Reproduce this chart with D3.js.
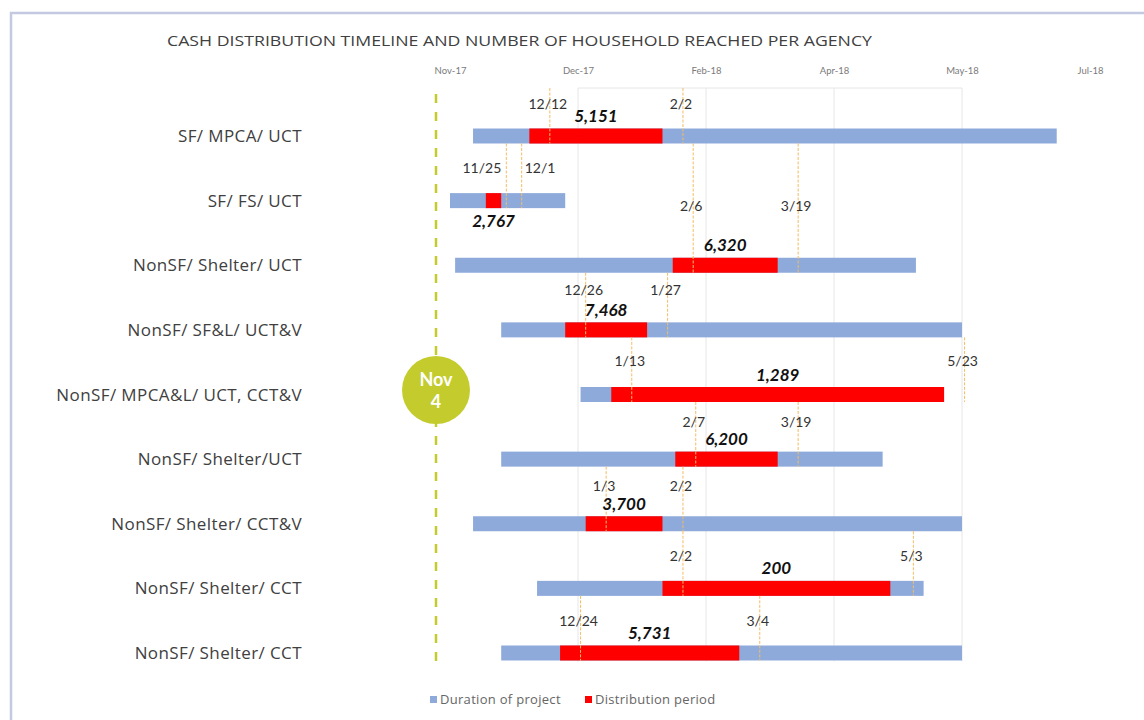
<!DOCTYPE html>
<html>
<head>
<meta charset="utf-8">
<script src="https://cdn.jsdelivr.net/npm/d3@7"></script>
<style>
  body { margin: 0; background: #fff; }
  svg { display: block; font-family: Lato, "Open Sans", sans-serif; }
</style>
</head>
<body>
<svg id="chart"></svg>
<script>
// chart values
const categories = [
    "SF/ MPCA/ UCT",
    "SF/ FS/ UCT",
    "NonSF/ Shelter/ UCT",
    "NonSF/ SF&L/ UCT&V",
    "NonSF/ MPCA&L/ UCT, CCT&V",
    "NonSF/ Shelter/UCT",
    "NonSF/ Shelter/ CCT&V",
    "NonSF/ Shelter/ CCT",
    "NonSF/ Shelter/ CCT"
];
const projectStart = ["2017-11-12", "2017-11-03", "2017-11-05", "2017-11-23", "2017-12-24", "2017-11-23", "2017-11-12", "2017-12-07", "2017-11-23"];
const projectEnd = ["2018-06-28", "2017-12-18", "2018-05-04", "2018-05-22", "2018-05-15", "2018-04-21", "2018-05-22", "2018-05-07", "2018-05-22"];
const distStart = ["2017-12-04", "2017-11-17", "2018-01-29", "2017-12-18", "2018-01-05", "2018-01-30", "2017-12-26", "2018-01-25", "2017-12-16"];
const distEnd = ["2018-01-25", "2017-11-23", "2018-03-11", "2018-01-19", "2018-05-15", "2018-03-11", "2018-01-25", "2018-04-24", "2018-02-24"];
const households = [5151, 2767, 6320, 7468, 1289, 6200, 3700, 200, 5731];
const dateNotes = [
    ["12/12", "2/2"], ["11/25", "12/1"], ["2/6", "3/19"], ["12/26", "1/27"], ["1/13", "5/23"],
    ["2/7", "3/19"], ["1/3", "2/2"], ["2/2", "5/3"], ["12/24", "3/4"]
];
const tickDates = ["2017-11-03", "2017-12-23", "2018-02-11", "2018-04-02", "2018-05-22", "2018-07-11"];
const legendItems = ["Duration of project", "Distribution period"];

const W = 1144, H = 720;
const blue = '#8eaadb', red = '#ff0000', lime = '#c3cc2c', orange = '#f5bd62';
const barH = 15;
// where the date notes sit above each bar, and which row their guide lines start from
const noteLift = [32, 33, 59, 40, 34, 37, 38, 32, 32];
const noteFrom = [-1, 0, 0, 2, 3, 4, 5, 6, 7];
// text anchoring of the two notes in each row (the close pair in row 2 sits either side)
const noteAnchor = [
    ['middle', 'middle'], ['end', 'start'], ['middle', 'middle'], ['middle', 'middle'], ['middle', 'middle'],
    ['middle', 'middle'], ['middle', 'middle'], ['middle', 'middle'], ['middle', 'middle']
];

const parse = d3.timeParse('%Y-%m-%d');
const noteDate = s => {
    const [m, d] = s.split('/').map(Number);
    return new Date(m >= 11 ? 2017 : 2018, m - 1, d);
};

const rows = categories.map((c, i) => ({
    i, name: c,
    p0: parse(projectStart[i]), p1: parse(projectEnd[i]),
    d0: parse(distStart[i]), d1: parse(distEnd[i]),
    hh: households[i], notes: dateNotes[i]
}));

const svg = d3.select('#chart').attr('width', W).attr('height', H);

// frame
svg.append('rect')
    .attr('x', 11).attr('y', 13).attr('width', W + 20).attr('height', H + 20)
    .attr('fill', 'none').attr('stroke', '#c3c9e1').attr('stroke-width', 2.5);

svg.append('text')
    .attr('x', 167).attr('y', 46)
    .attr('font-family', '"Open Sans", sans-serif')
    .attr('font-size', 15).attr('fill', '#404040')
    .attr('textLength', 705).attr('lengthAdjust', 'spacingAndGlyphs')
    .text('CASH DISTRIBUTION TIMELINE AND NUMBER OF HOUSEHOLD REACHED PER AGENCY');

const x = d3.scaleTime()
    .domain([parse(tickDates[0]), parse(tickDates[tickDates.length - 1])])
    .range([450, 1090]);

const y = d3.scalePoint()
    .domain(d3.range(categories.length))
    .range([136, 653]);

const plotTop = 88, plotBottom = y(categories.length - 1) + barH / 2 + 1;

// gridlines
const innerTicks = tickDates.slice(1, -1).map(parse);
svg.append('g').selectAll('line')
    .data(innerTicks)
    .join('line')
    .attr('x1', d => x(d)).attr('x2', d => x(d))
    .attr('y1', plotTop).attr('y2', plotBottom)
    .attr('stroke', '#e6e6e6').attr('stroke-width', 1);
svg.append('line')
    .attr('x1', x(innerTicks[0])).attr('x2', x(innerTicks[innerTicks.length - 1]))
    .attr('y1', plotTop).attr('y2', plotTop)
    .attr('stroke', '#e6e6e6');

// top axis
const xAxis = d3.axisTop(x)
    .tickValues(tickDates.map(parse))
    .tickFormat(d3.timeFormat('%b-%y'))
    .tickSize(0)
    .tickPadding(0);
const xAxisG = svg.append('g')
    .attr('transform', 'translate(0,74)')
    .call(xAxis);
xAxisG.select('.domain').remove();
xAxisG.selectAll('text')
    .attr('font-family', 'Lato, sans-serif')
    .attr('font-size', 9.5).attr('fill', '#7a7a7a');

// category labels
svg.append('g').selectAll('text')
    .data(rows)
    .join('text')
    .attr('x', 302).attr('y', d => y(d.i) + 6)
    .attr('text-anchor', 'end')
    .attr('font-family', '"Open Sans", sans-serif')
    .attr('font-size', 17).attr('letter-spacing', 0.4).attr('fill', '#404040')
    .text(d => d.name);

// Nov 4 marker line
const markX = 436;
svg.append('line')
    .attr('x1', markX).attr('x2', markX)
    .attr('y1', 94).attr('y2', 664)
    .attr('stroke', lime).attr('stroke-width', 2.5)
    .attr('stroke-dasharray', '9,9');

// bars
const marks = svg.append('g');
marks.selectAll('.proj')
    .data(rows)
    .join('rect')
    .attr('class', 'proj')
    .attr('x', d => x(d.p0))
    .attr('width', d => x(d.p1) - x(d.p0))
    .attr('y', d => y(d.i) - barH / 2)
    .attr('height', barH)
    .attr('fill', blue);
marks.selectAll('.dist')
    .data(rows)
    .join('rect')
    .attr('class', 'dist')
    .attr('x', d => x(d.d0))
    .attr('width', d => x(d.d1) - x(d.d0))
    .attr('y', d => y(d.i) - barH / 2)
    .attr('height', barH)
    .attr('fill', red);

// date notes with guide lines
const notes = rows.flatMap(r => r.notes.map((n, k) => ({
    row: r.i, label: n, date: noteDate(n), anchor: noteAnchor[r.i][k]
})));
const notesG = svg.append('g');
notesG.selectAll('line')
    .data(notes)
    .join('line')
    .attr('x1', d => x(d.date)).attr('x2', d => x(d.date))
    .attr('y1', d => noteFrom[d.row] < 0 ? plotTop : y(noteFrom[d.row]) + barH / 2)
    .attr('y2', d => y(d.row) + barH / 2)
    .attr('stroke', orange).attr('stroke-width', 1)
    .attr('stroke-dasharray', '3,1.5');
notesG.selectAll('text')
    .data(notes)
    .join('text')
    .attr('x', d => d.anchor === 'end' ? x(d.date) - 5 : d.anchor === 'start' ? x(d.date) + 3 : x(d.date) - 2)
    .attr('y', d => y(d.row) - noteLift[d.row] + 5)
    .attr('text-anchor', d => d.anchor)
    .attr('font-size', 14).attr('fill', '#333')
    .text(d => d.label);

// households reached
svg.append('g').selectAll('text')
    .data(rows)
    .join('text')
    .attr('x', d => (x(d.d0) + x(d.d1)) / 2)
    .attr('y', d => d.i === 1 ? y(d.i) + 26 : y(d.i) - 14)
    .attr('text-anchor', 'middle')
    .attr('font-size', 17).attr('font-weight', 'bold').attr('font-style', 'italic')
    .attr('fill', '#111')
    .text(d => d3.format(',')(d.hh));

// Nov 4 badge
const badge = svg.append('g').attr('transform', `translate(${markX},390)`);
badge.append('circle').attr('r', 34).attr('fill', lime);
badge.append('text')
    .attr('y', -4).attr('text-anchor', 'middle')
    .attr('font-size', 18).attr('font-weight', 'bold').attr('fill', '#fff')
    .text('Nov');
badge.append('text')
    .attr('y', 18).attr('text-anchor', 'middle')
    .attr('font-size', 18).attr('font-weight', 'bold').attr('fill', '#fff')
    .text('4');

// legend
const legend = svg.append('g').attr('transform', 'translate(430,700)');
const legendX = [0, 155];
legend.selectAll('g')
    .data(legendItems)
    .join('g')
    .attr('transform', (d, i) => `translate(${legendX[i]},0)`)
    .each(function (d, i) {
        const g = d3.select(this);
        g.append('rect').attr('x', 0).attr('y', -4).attr('width', 7).attr('height', 7)
            .attr('fill', i === 0 ? blue : red);
        g.append('text').attr('x', 10).attr('y', 4)
            .attr('font-family', '"Open Sans", sans-serif')
            .attr('font-size', 13).attr('letter-spacing', 0.3).attr('fill', '#666')
            .text(d);
    });
</script>
</body>
</html>
